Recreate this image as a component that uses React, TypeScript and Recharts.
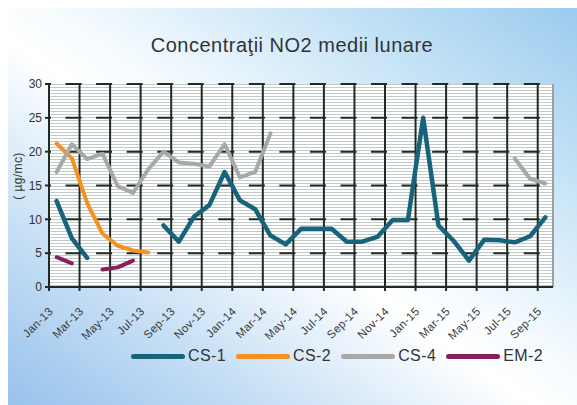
import { LineChart, Line, XAxis, YAxis, CartesianGrid, ReferenceLine } from "recharts";

const months = [
  "Jan-13", "Feb-13", "Mar-13", "Apr-13", "May-13", "Jun-13", "Jul-13", "Aug-13", "Sep-13", "Oct-13", "Nov-13", "Dec-13",
  "Jan-14", "Feb-14", "Mar-14", "Apr-14", "May-14", "Jun-14", "Jul-14", "Aug-14", "Sep-14", "Oct-14", "Nov-14", "Dec-14",
  "Jan-15", "Feb-15", "Mar-15", "Apr-15", "May-15", "Jun-15", "Jul-15", "Aug-15", "Sep-15",
];

// monthly NO2 means, µg/mc (null = no measurement)
const cs1 = [
  12.7, 7.2, 4.3, null, null, null, null, 9.1, 6.7, 10.4, 12.1, 17.0,
  12.8, 11.5, 7.6, 6.3, 8.6, 8.6, 8.6, 6.7, 6.7, 7.4, 9.9, 9.9,
  25.0, 9.1, 6.8, 3.9, 7.0, 6.9, 6.6, 7.5, 10.3,
];
const cs2 = [
  21.2, 19.0, 12.4, 7.9, 6.1, 5.4, 5.1, null, null, null, null, null,
  null, null, null, null, null, null, null, null, null, null, null, null,
  null, null, null, null, null, null, null, null, null,
];
const cs4 = [
  17.0, 21.1, 18.9, 19.7, 14.9, 13.9, 17.4, 20.0, 18.4, 18.2, 17.8, 21.1,
  16.2, 17.0, 22.7, null, null, null, null, null, null, null, null, null,
  null, null, null, null, null, null, 19.0, 16.0, 15.3,
];
const em2 = [
  4.4, 3.5, null, 2.6, 2.9, 3.9, null, null, null, null, null, null,
  null, null, null, null, null, null, null, null, null, null, null, null,
  null, null, null, null, null, null, null, null, null,
];

const yTicks = [0, 5, 10, 15, 20, 25, 30];

const series = [
  { key: "cs1", name: "CS-1", color: "#17637b", width: 4.5, values: cs1 },
  { key: "cs2", name: "CS-2", color: "#f5921f", width: 4, values: cs2 },
  { key: "cs4", name: "CS-4", color: "#a7a9a9", width: 4, values: cs4 },
  { key: "em2", name: "EM-2", color: "#8b1f5c", width: 4, values: em2 },
];

const data = months.map((m, i) => {
  const row: Record<string, number | string | null> = { x: i + 0.5, month: m };
  series.forEach((s) => (row[s.key] = s.values[i]));
  return row;
});

const gridTicks = months.map((_, i) => i).filter((i) => i % 2 === 0);
const labelTicks = gridTicks.map((i) => i + 0.5);

const font = "'Liberation Sans', Arial, sans-serif";
const dark = "#1f2b24";

function MonthTick({ x, y, payload }: any) {
  const label = months[Math.floor(payload.value)];
  const ax = x - 3;
  const ay = y + 24;
  return (
    <text
      x={ax}
      y={ay}
      transform={`rotate(-45, ${ax}, ${ay})`}
      textAnchor="end"
      fontSize={11.5}
      letterSpacing={0.3}
      fontFamily={font}
      fill="#3a3a3a"
    >
      {label}
    </text>
  );
}

function DashedRow(props: any) {
  const { x1, x2, y1, y2, index } = props;
  return (
    <line
      key={`h-${index}`}
      x1={x1}
      x2={x2}
      y1={y1}
      y2={y2}
      stroke={dark}
      strokeWidth={2}
      strokeDasharray="16 14.55"
      strokeDashoffset={14}
    />
  );
}

export default function App() {
  return (
    <div style={{ position: "relative", width: 577, height: 405, background: "#fff", overflow: "hidden" }}>
      <style>{"body{margin:0;overflow:hidden}"}</style>
      <div
        style={{
          position: "absolute",
          left: 8,
          top: 8,
          right: 0,
          bottom: 0,
          background:
            "linear-gradient(to top right, #98c2ec 0%, #c4def5 22%, #ffffff 46%, #f6fbfe 54%, #c9e5f7 76%, #9ccbee 100%)",
        }}
      />
      <div
        style={{
          position: "absolute",
          left: 0,
          top: 34,
          width: 584,
          textAlign: "center",
          fontFamily: font,
          fontSize: 20,
          letterSpacing: 0.5,
          color: "#333",
        }}
      >
        Concentraţii NO2 medii lunare
      </div>
      <div
        style={{
          position: "absolute",
          left: 18,
          top: 176,
          transform: "translate(-50%, -50%) rotate(-90deg)",
          fontFamily: font,
          fontSize: 12,
          letterSpacing: 0.4,
          color: "#333",
          whiteSpace: "nowrap",
        }}
      >
        ( µg/mc)
      </div>
      <div style={{ position: "absolute", left: 0, top: 0 }}>
        <LineChart width={577} height={405} data={data} margin={{ top: 84, right: 24, bottom: 0, left: 0 }}>
          <defs>
            <pattern id="stripes" width="4" height="3" patternUnits="userSpaceOnUse">
              <rect width="4" height="3" fill="#ffffff" />
              <rect width="4" height="1" fill="#c3caca" />
            </pattern>
          </defs>
          <CartesianGrid fill="url(#stripes)" horizontal={false} stroke={dark} strokeWidth={2} />
          <CartesianGrid vertical={false} horizontal={DashedRow} />
          <ReferenceLine x={33} stroke="#c3cbcb" strokeWidth={1.5} />
          <XAxis
            type="number"
            dataKey="x"
            domain={[0, 33]}
            ticks={gridTicks}
            interval={0}
            height={1}
            tickSize={4}
            tickFormatter={() => ""}
            stroke={dark}
            axisLine={{ stroke: dark, strokeWidth: 2 }}
            tickLine={{ stroke: dark, strokeWidth: 2 }}
          />
          <XAxis
            xAxisId="lab"
            type="number"
            dataKey="x"
            domain={[0, 33]}
            ticks={labelTicks}
            interval={0}
            height={117}
            tickSize={0}
            tickMargin={0}
            axisLine={false}
            tickLine={false}
            tick={<MonthTick />}
          />
          <YAxis
            domain={[0, 30]}
            ticks={yTicks}
            interval={0}
            width={49}
            tickSize={4}
            tickMargin={3}
            axisLine={{ stroke: dark, strokeWidth: 2 }}
            tickLine={{ stroke: dark, strokeWidth: 2 }}
            tick={{ fontSize: 12, fontFamily: font, fill: "#333" }}
          />
          {series.map((s) => (
            <Line
              key={s.key}
              type="linear"
              dataKey={s.key}
              name={s.name}
              stroke={s.color}
              strokeWidth={s.width}
              strokeLinejoin="round"
              strokeLinecap="round"
              dot={false}
              activeDot={false}
              isAnimationActive={false}
            />
          ))}
        </LineChart>
      </div>
      <div
        style={{
          position: "absolute",
          left: 131,
          top: 347,
          display: "flex",
          alignItems: "center",
          fontFamily: font,
          fontSize: 16,
          letterSpacing: 0.4,
          color: "#333",
        }}
      >
        {series.map((s) => (
          <div key={s.key} style={{ display: "flex", alignItems: "center", marginRight: 10 }}>
            <div style={{ width: 54, height: 5, borderRadius: 3, background: s.color, marginRight: 3 }} />
            <span>{s.name}</span>
          </div>
        ))}
      </div>
    </div>
  );
}
